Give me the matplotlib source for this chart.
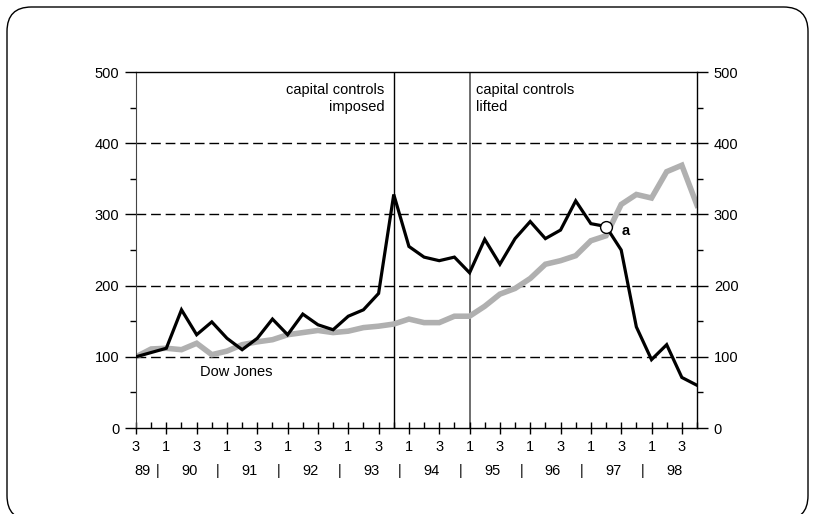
import matplotlib
matplotlib.use('Agg')
import matplotlib.pyplot as plt
from matplotlib.patches import FancyBboxPatch
from matplotlib.ticker import FixedLocator

plt.rcParams['font.family'] = ['Liberation Sans', 'DejaVu Sans']
plt.rcParams['font.size'] = 10.5

# quarterly index, 1989 Q3 .. 1998 Q4 (start = 100)
market = [100, 106, 112, 166, 131, 149, 126, 110, 126, 153,
          131, 160, 145, 138, 157, 166, 189, 328, 255, 240,
          235, 240, 218, 265, 230, 266, 290, 266, 278, 319,
          287, 283, 250, 142, 96, 117, 71, 60]
dow_jones = [100, 111, 112, 110, 119, 103, 108, 117, 121, 124,
             131, 134, 137, 134, 136, 141, 143, 146, 153, 148,
             148, 157, 157, 171, 188, 196, 210, 230, 235, 242,
             263, 270, 314, 328, 323, 360, 369, 313]
quarter_labels = ['3' if i % 4 == 0 else '1' for i in range(0, 37, 2)]
years = ['89', '90', '91', '92', '93', '94', '95', '96', '97', '98']
grid_vals = [100, 200, 300, 400]
imposed_q = 17   # 93 Q4
lifted_q = 22    # 95 Q1
cross_q = 31     # point "a"

x = list(range(len(market)))

fig = plt.figure(figsize=(8.14, 5.14), dpi=100)
ax = fig.add_axes([136/814, 1-428/514, 561/814, 356/514])

# frame round the whole picture (bottom edge runs off the page)
frame = FancyBboxPatch((7/814, -6/514), 801/814, 513/514,
                       boxstyle='round,pad=0,rounding_size=0.03',
                       mutation_aspect=814/514, transform=fig.transFigure,
                       fill=False, ec='black', lw=1.0)
fig.patches.append(frame)

for v in grid_vals:
    ax.axhline(v, color='black', lw=1.0, dashes=(7, 3.5), zorder=1)
ax.axvline(imposed_q, color='black', lw=1.0, zorder=1)
ax.axvline(lifted_q, color='#555555', lw=1.2, zorder=1)

ax.plot(x, dow_jones, color='#b0b0b0', lw=4.0, zorder=2, solid_joinstyle='miter')
ax.plot(x, market, color='black', lw=2.3, zorder=3, solid_joinstyle='miter')
ax.plot(cross_q, market[cross_q], 'o', ms=8.5, mfc='white', mec='black', mew=1.0, zorder=4)
ax.text(cross_q + 1.0, market[cross_q] - 6, 'a', fontweight='bold', va='center', ha='left')

ax.text(imposed_q - 0.6, 485, 'capital controls\nimposed', ha='right', va='top', linespacing=1.3)
ax.text(lifted_q + 0.45, 485, 'capital controls\nlifted', ha='left', va='top', linespacing=1.3)
ax.text(4.2, 79, 'Dow Jones', ha='left', va='center')

ax.set_xlim(0, 37)
ax.set_ylim(0, 500)

for s in ['top', 'bottom', 'right']:
    ax.spines[s].set_color('black')
    ax.spines[s].set_linewidth(1.0)
ax.spines['left'].set_color('#444444')

ax.xaxis.set_major_locator(FixedLocator(range(0, 37, 2)))
ax.xaxis.set_minor_locator(FixedLocator(range(1, 38, 2)))
ax.set_xticklabels(quarter_labels)
ax.tick_params(axis='x', which='major', direction='inout', length=8.6, width=1, pad=4.5)
ax.tick_params(axis='x', which='minor', direction='in', length=4.3, width=1)

ax.yaxis.set_major_locator(FixedLocator(range(0, 501, 100)))
ax.yaxis.set_minor_locator(FixedLocator(range(50, 500, 100)))
ax.tick_params(axis='y', which='major', direction='out', length=7.6, width=1, pad=4.5,
               right=True, labelright=True)
ax.tick_params(axis='y', which='minor', direction='out', length=4.3, width=1, right=True)

# year row under the quarter labels
trans = ax.get_xaxis_transform()
ax.text(0.43, -0.122, years[0], transform=trans, ha='center', va='center')
for k, yr in enumerate(years[1:]):
    ax.text(3.5 + 4 * k, -0.122, yr, transform=trans, ha='center', va='center')
for k in range(9):
    ax.text(1.4 + 4 * k, -0.122, '|', transform=trans, ha='center', va='center')

fig.savefig('out.png', dpi=100)
